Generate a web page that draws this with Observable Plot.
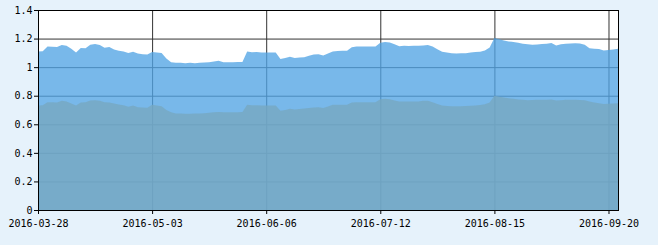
<!DOCTYPE html>
<html><head><meta charset="utf-8">
<script src="https://cdn.jsdelivr.net/npm/d3@7"></script>
<script src="https://cdn.jsdelivr.net/npm/@observablehq/plot@0.6"></script>
<style>
html,body{margin:0;padding:0;background:#e6f2fb;}
#chart{width:658px;height:245px;}
svg{display:block;}
</style></head><body><div id="chart"></div>
<script>
const dates = [
"2016-03-28","2016-03-29","2016-03-30","2016-03-31",
"2016-04-01","2016-04-05","2016-04-06","2016-04-07","2016-04-08","2016-04-11","2016-04-12","2016-04-13","2016-04-14","2016-04-15","2016-04-18","2016-04-19","2016-04-20","2016-04-21","2016-04-22","2016-04-25","2016-04-26","2016-04-27","2016-04-28","2016-04-29",
"2016-05-03","2016-05-04","2016-05-05","2016-05-06","2016-05-09","2016-05-10","2016-05-11","2016-05-12","2016-05-13","2016-05-16","2016-05-17","2016-05-18","2016-05-19","2016-05-20","2016-05-23","2016-05-24","2016-05-25","2016-05-26","2016-05-27","2016-05-30","2016-05-31",
"2016-06-01","2016-06-02","2016-06-03","2016-06-06","2016-06-07","2016-06-08","2016-06-13","2016-06-14","2016-06-15","2016-06-16","2016-06-17","2016-06-20","2016-06-21","2016-06-22","2016-06-23","2016-06-24","2016-06-27","2016-06-28","2016-06-29","2016-06-30",
"2016-07-01","2016-07-04","2016-07-05","2016-07-06","2016-07-07","2016-07-08","2016-07-11","2016-07-12","2016-07-13","2016-07-14","2016-07-15","2016-07-18","2016-07-19","2016-07-20","2016-07-21","2016-07-22","2016-07-25","2016-07-26","2016-07-27","2016-07-28","2016-07-29",
"2016-08-01","2016-08-02","2016-08-03","2016-08-04","2016-08-05","2016-08-08","2016-08-09","2016-08-10","2016-08-11","2016-08-12","2016-08-15","2016-08-16","2016-08-17","2016-08-18","2016-08-19","2016-08-22","2016-08-23","2016-08-24","2016-08-25","2016-08-26","2016-08-29","2016-08-30","2016-08-31",
"2016-09-01","2016-09-02","2016-09-05","2016-09-06","2016-09-07","2016-09-08","2016-09-09","2016-09-12","2016-09-13","2016-09-14","2016-09-19","2016-09-20","2016-09-21","2016-09-22"
];
const upper = [
1.110,1.112,1.145,1.143,1.141,1.155,1.150,1.128,1.103,1.134,
1.132,1.157,1.162,1.155,1.136,1.141,1.124,1.115,1.110,1.099,
1.107,1.096,1.091,1.089,1.106,1.102,1.099,1.060,1.035,1.031,
1.030,1.027,1.030,1.028,1.031,1.032,1.034,1.040,1.045,1.034,
1.034,1.035,1.036,1.036,1.110,1.104,1.106,1.103,1.103,1.103,
1.103,1.057,1.064,1.073,1.064,1.068,1.070,1.080,1.089,1.091,
1.082,1.096,1.110,1.113,1.115,1.115,1.140,1.145,1.145,1.145,
1.145,1.145,1.170,1.176,1.172,1.160,1.147,1.150,1.148,1.150,
1.149,1.152,1.155,1.145,1.125,1.108,1.103,1.098,1.096,1.097,
1.098,1.102,1.106,1.108,1.116,1.138,1.204,1.195,1.186,1.180,
1.176,1.170,1.164,1.160,1.157,1.158,1.162,1.164,1.169,1.152,
1.160,1.164,1.166,1.167,1.166,1.157,1.132,1.129,1.127,1.117,
1.120,1.124,1.129
];
const lower = [
0.731,0.733,0.755,0.754,0.753,0.764,0.760,0.745,0.731,0.752,
0.754,0.767,0.769,0.765,0.755,0.752,0.745,0.738,0.733,0.722,
0.731,0.720,0.717,0.715,0.736,0.732,0.727,0.700,0.684,0.676,
0.675,0.673,0.674,0.675,0.676,0.678,0.680,0.684,0.686,0.684,
0.685,0.685,0.685,0.686,0.736,0.733,0.734,0.732,0.732,0.732,
0.732,0.694,0.700,0.708,0.704,0.707,0.710,0.714,0.718,0.719,
0.714,0.725,0.736,0.736,0.737,0.737,0.752,0.755,0.755,0.755,
0.755,0.755,0.775,0.778,0.775,0.766,0.759,0.760,0.759,0.760,
0.760,0.764,0.765,0.755,0.742,0.731,0.728,0.726,0.726,0.727,
0.728,0.730,0.731,0.735,0.740,0.752,0.799,0.792,0.787,0.782,
0.778,0.774,0.771,0.769,0.770,0.771,0.771,0.772,0.773,0.766,
0.769,0.771,0.772,0.771,0.770,0.768,0.760,0.752,0.748,0.742,
0.743,0.746,0.748
];
const xTicks = ["2016-03-28","2016-05-03","2016-06-06","2016-07-12","2016-08-15","2016-09-20"];
const yTicks = [0,0.2,0.4,0.6,0.8,1,1.2,1.4];

const rows = dates.map((d,i)=>({date:d, upper:upper[i], lower:lower[i]}));
const chart = Plot.plot({
  width:658, height:245,
  marginLeft:38, marginRight:40, marginTop:10, marginBottom:35,
  style:{background:"transparent", fontFamily:"'DejaVu Sans Mono', monospace", fontSize:"10px", color:"#000", overflow:"visible"},
  x:{type:"point", domain:dates, padding:0},
  y:{domain:[0,1.4]},
  marks:[
    Plot.frame({fill:"white", stroke:null}),
    Plot.ruleY(yTicks, {stroke:"#333", strokeWidth:1}),
    Plot.ruleX(xTicks, {stroke:"#333", strokeWidth:1}),
    Plot.areaY(rows, {x:"date", y:"upper", fill:"rgb(81,163,228)", fillOpacity:0.775}),
    Plot.areaY(rows, {x:"date", y:"lower", fill:"rgb(119,167,192)", fillOpacity:0.8}),
    Plot.frame({stroke:"#000", strokeWidth:1}),
    Plot.axisY({ticks:yTicks, tickFormat:d=>String(+d.toFixed(1)), tickSize:4, tickPadding:2, stroke:"#000", fill:"#000", label:null}),
    Plot.axisX({ticks:xTicks, tickSize:4, tickPadding:5, stroke:"#000", fill:"#000", label:null})
  ]
});
document.getElementById("chart").appendChild(chart);
</script>
</body></html>
